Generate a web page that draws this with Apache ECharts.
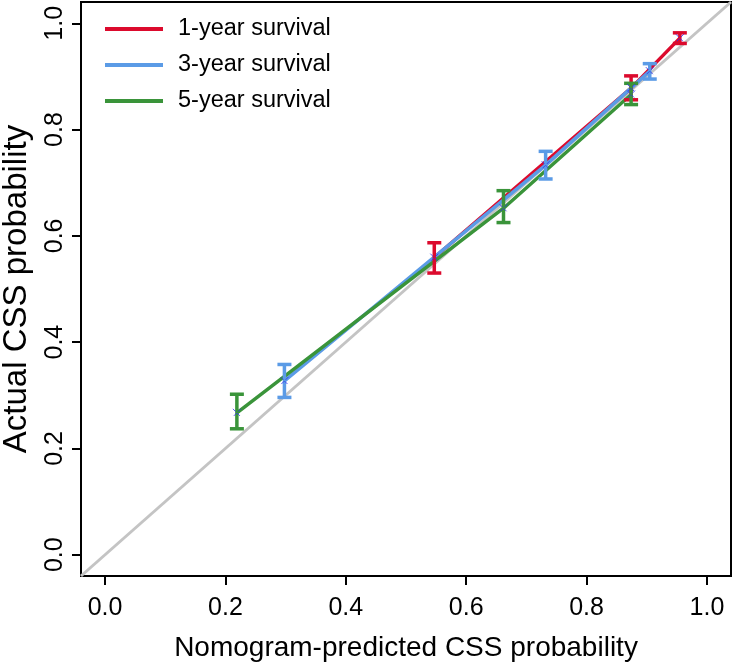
<!DOCTYPE html>
<html>
<head>
<meta charset="utf-8">
<script src="https://cdn.jsdelivr.net/npm/echarts@6/dist/echarts.min.js"></script>
<style>html,body{margin:0;padding:0;background:#fff}#c{width:735px;height:664px}</style>
</head>
<body>
<div id="c"></div>
<script>
const xTicks = [0, 0.2, 0.4, 0.6, 0.8, 1.0];
const yTicks = [0, 0.2, 0.4, 0.6, 0.8, 1.0];
const seriesNames = ['1-year survival', '3-year survival', '5-year survival'];
const diagLine = [-0.04, 1.04];

const pred1 = [0.547, 0.874, 0.955];
const obs1  = [0.559, 0.878, 0.972];
const lo1   = [0.530, 0.856, 0.962];
const hi1   = [0.587, 0.901, 0.982];

const pred3 = [0.298, 0.732, 0.905];
const obs3  = [0.327, 0.733, 0.910];
const lo3   = [0.296, 0.707, 0.895];
const hi3   = [0.358, 0.759, 0.924];

const pred5 = [0.219, 0.662, 0.874];
const obs5  = [0.267, 0.652, 0.866];
const lo5   = [0.237, 0.625, 0.847];
const hi5   = [0.302, 0.685, 0.887];

const colors = ['#DC0A2D', '#5B9BE6', '#3A943A'];
const FONT = 'Liberation Sans, Arial, sans-serif';

const groups = [
  {name: seriesNames[0], p: pred1, o: obs1, lo: lo1, hi: hi1, c: colors[0]},
  {name: seriesNames[1], p: pred3, o: obs3, lo: lo3, hi: hi3, c: colors[1]},
  {name: seriesNames[2], p: pred5, o: obs5, lo: lo5, hi: hi5, c: colors[2]}
];

const series = [{
  type: 'line', name: 'ideal', data: diagLine.map(v => [v, v]), symbol: 'none',
  lineStyle: {color: '#C4C4C4', width: 3}, silent: true, z: 1
}];
groups.forEach(g => {
  series.push({
    type: 'line', name: g.name, data: g.p.map((v, i) => [v, g.o[i]]), symbol: 'none',
    lineStyle: {color: g.c, width: 3.5}, itemStyle: {color: g.c}, z: 2
  });
});
groups.forEach(g => {
  series.push({
    type: 'custom', name: g.name + ' CI', z: 3,
    data: g.p.map((v, i) => [v, g.lo[i], g.hi[i]]),
    renderItem: function (params, api) {
      const a = api.coord([api.value(0), api.value(1)]);
      const b = api.coord([api.value(0), api.value(2)]);
      const hw = 7;
      const st = {stroke: g.c, lineWidth: 3.5, fill: null};
      return {type: 'group', children: [
        {type: 'line', shape: {x1: a[0], y1: a[1], x2: b[0], y2: b[1]}, style: st},
        {type: 'line', shape: {x1: a[0] - hw, y1: a[1], x2: a[0] + hw, y2: a[1]}, style: st},
        {type: 'line', shape: {x1: b[0] - hw, y1: b[1], x2: b[0] + hw, y2: b[1]}, style: st}
      ]};
    }
  });
});
groups.forEach(g => {
  series.push({
    type: 'scatter', name: g.name + ' pts', z: 4,
    data: g.p.map((v, i) => [v, g.o[i]]),
    symbol: 'path://M0,0L10,10M10,0L0,10', symbolSize: 8,
    itemStyle: {color: 'transparent', borderColor: '#3030F0', borderWidth: 1, borderType: 'dashed'}
  });
});

const chart = echarts.init(document.getElementById('c'), null, {renderer: 'canvas'});
chart.setOption({
  animation: false,
  backgroundColor: '#fff',
  grid: {left: 81, right: 4, top: 2, bottom: 88, show: true, borderColor: '#000', borderWidth: 2,
         containLabel: false, outerBoundsMode: 'none'},
  legend: {
    data: seriesNames.map((n, i) => ({name: n, icon: 'rect', itemStyle: {color: colors[i]}})),
    left: 100, top: 12, orient: 'vertical', itemWidth: 58, itemHeight: 4, itemGap: 12,
    textStyle: {fontSize: 23.5, color: '#000', fontFamily: FONT, padding: [0, 0, 0, 10]},
    selectedMode: false
  },
  xAxis: {
    type: 'value', min: -0.04, max: 1.04,
    axisLine: {show: false, onZero: false},
    splitLine: {show: false},
    axisTick: {show: true, customValues: xTicks, length: 9, lineStyle: {color: '#000', width: 2}},
    axisLabel: {customValues: xTicks, formatter: v => v.toFixed(1), fontSize: 25, color: '#000', fontFamily: FONT, margin: 20},
    name: 'Nomogram-predicted CSS probability', nameLocation: 'middle', nameGap: 58,
    nameTextStyle: {fontSize: 28, color: '#000', fontFamily: FONT}
  },
  yAxis: {
    type: 'value', min: -0.04, max: 1.04,
    axisLine: {show: false, onZero: false},
    splitLine: {show: false},
    axisTick: {show: true, customValues: yTicks, length: 9, lineStyle: {color: '#000', width: 2}},
    axisLabel: {customValues: yTicks, formatter: v => v.toFixed(1), fontSize: 25, color: '#000', fontFamily: FONT, margin: 13, rotate: 90},
    name: 'Actual CSS probability', nameLocation: 'middle', nameGap: 48,
    nameTextStyle: {fontSize: 33, color: '#000', fontFamily: FONT}
  },
  series: series
});
</script>
</body>
</html>
